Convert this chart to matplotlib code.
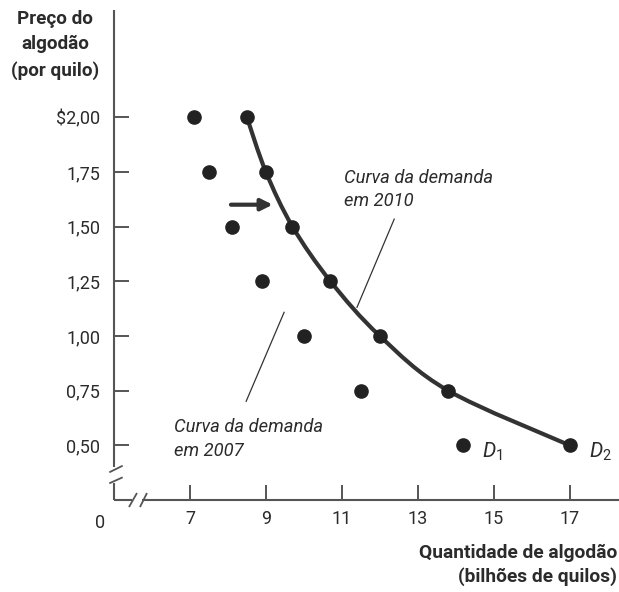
import numpy as np
import matplotlib
matplotlib.use('Agg')
import matplotlib.pyplot as plt
import matplotlib.patches as mpatches
from matplotlib.path import Path

plt.rcParams['font.family'] = ['Roboto', 'DejaVu Sans']
plt.rcParams['mathtext.fontset'] = 'custom'
plt.rcParams['mathtext.it'] = 'Roboto:italic'
plt.rcParams['mathtext.rm'] = 'Roboto'

# price levels (per kilo)
prices = [2.00, 1.75, 1.50, 1.25, 1.00, 0.75, 0.50]
# quantity demanded, billions of kilos
qty_2007 = [7.1, 7.5, 8.1, 8.9, 10.0, 11.5, 14.2]
qty_2010 = [8.5, 9.0, 9.7, 10.7, 12.0, 13.8, 17.0]

x_ticks = [7, 9, 11, 13, 15, 17]
y_ticks = [0.50, 0.75, 1.00, 1.25, 1.50, 1.75, 2.00]
y_labels = ['0,50', '0,75', '1,00', '1,25', '1,50', '1,75', '$2,00']

ink = '#2b2b2b'
axis_col = '#555555'


def smooth_path(xs, ys):
    # catmull-rom through the points, as cubic bezier pieces
    pts = np.column_stack([xs, ys])
    verts = [pts[0]]
    codes = [Path.MOVETO]
    n = len(pts)
    for i in range(n - 1):
        p0 = pts[max(i - 1, 0)]
        p1 = pts[i]
        p2 = pts[i + 1]
        p3 = pts[min(i + 2, n - 1)]
        verts += [p1 + (p2 - p0) / 6, p2 - (p3 - p1) / 6, p2]
        codes += [Path.CURVE4] * 3
    return Path(verts, codes)


fig = plt.figure(figsize=(6.19, 5.92), dpi=100)
ax = fig.add_axes([114 / 619, 92 / 592, 505 / 619, 490 / 592])
ax.set_xlim(5, 18.3)
ax.set_ylim(0.25, 2.49)

for s in ax.spines.values():
    s.set_visible(False)

# axes with break marks
kw = dict(transform=ax.transAxes, color=axis_col, lw=1.5, clip_on=False, solid_capstyle='butt')
ax.plot([0, 0], [1, 0.067], **kw)
ax.plot([0, 0], [0.035, 0], **kw)
ax.plot([0, 0.036], [0, 0], **kw)
ax.plot([0.056, 1], [0, 0], **kw)
kw['lw'] = 1.3
ax.plot([-0.0093, 0.0172], [0.0565, 0.0700], **kw)
ax.plot([-0.0093, 0.0172], [0.0340, 0.0463], **kw)
ax.plot([0.0297, 0.0455], [-0.0143, 0.0143], **kw)
ax.plot([0.0515, 0.0653], [-0.0143, 0.0143], **kw)

ax.set_xticks(x_ticks)
ax.set_xticklabels([str(v) for v in x_ticks])
ax.set_yticks(y_ticks)
ax.set_yticklabels(y_labels)
ax.tick_params(axis='both', direction='in', length=11, width=1.4, color=axis_col,
               labelsize=13, labelcolor=ink)
ax.tick_params(axis='x', pad=7)
ax.tick_params(axis='y', pad=10)
ax.text(-0.028, -0.047, '0', transform=ax.transAxes, ha='center', va='center',
        fontsize=13, color=ink)

# 2010 curve
curve = mpatches.PathPatch(smooth_path(qty_2010, prices), fill=False, edgecolor='#333333',
                           lw=3.0, capstyle='round', zorder=2)
ax.add_patch(curve)
ax.plot(qty_2010, prices, 'o', color='#222222', ms=9.5, zorder=3)
ax.plot(qty_2007, prices, 'o', color='#222222', ms=9.5, zorder=3)

ax.text(14.69, 0.47, '$D_1$', fontsize=15, color=ink, ha='left', va='center')
ax.text(17.51, 0.47, '$D_2$', fontsize=15, color=ink, ha='left', va='center')

# shift arrow
ax.annotate('', xy=(9.18, 1.60), xytext=(8.08, 1.60),
            arrowprops=dict(arrowstyle='-|>', color='#333333', lw=3, mutation_scale=17,
                            shrinkA=0, shrinkB=0))

# callouts
ax.text(11.06, 1.765, 'Curva da demanda\nem 2010', style='italic', fontsize=13.2,
        color=ink, ha='left', va='top', linespacing=1.4)
ax.plot([12.38, 11.40], [1.534, 1.131], color='#333333', lw=0.9)
ax.text(6.59, 0.625, 'Curva da demanda\nem 2007', style='italic', fontsize=13.2,
        color=ink, ha='left', va='top', linespacing=1.4)
ax.plot([9.48, 8.48], [1.108, 0.701], color='#333333', lw=0.9)

fig.text(55 / 619, 1 - 45 / 592, 'Preço do\nalgodão\n(por quilo)', ha='center', va='center',
         fontsize=13.6, fontweight='bold', color=ink, linespacing=1.5)
fig.text(617 / 619, 1 - 565 / 592, 'Quantidade de algodão\n(bilhões de quilos)', ha='right',
         va='center', multialignment='right', fontsize=13.8, fontweight='bold', color=ink,
         linespacing=1.4)

fig.savefig('out.png', dpi=100, facecolor='white')
